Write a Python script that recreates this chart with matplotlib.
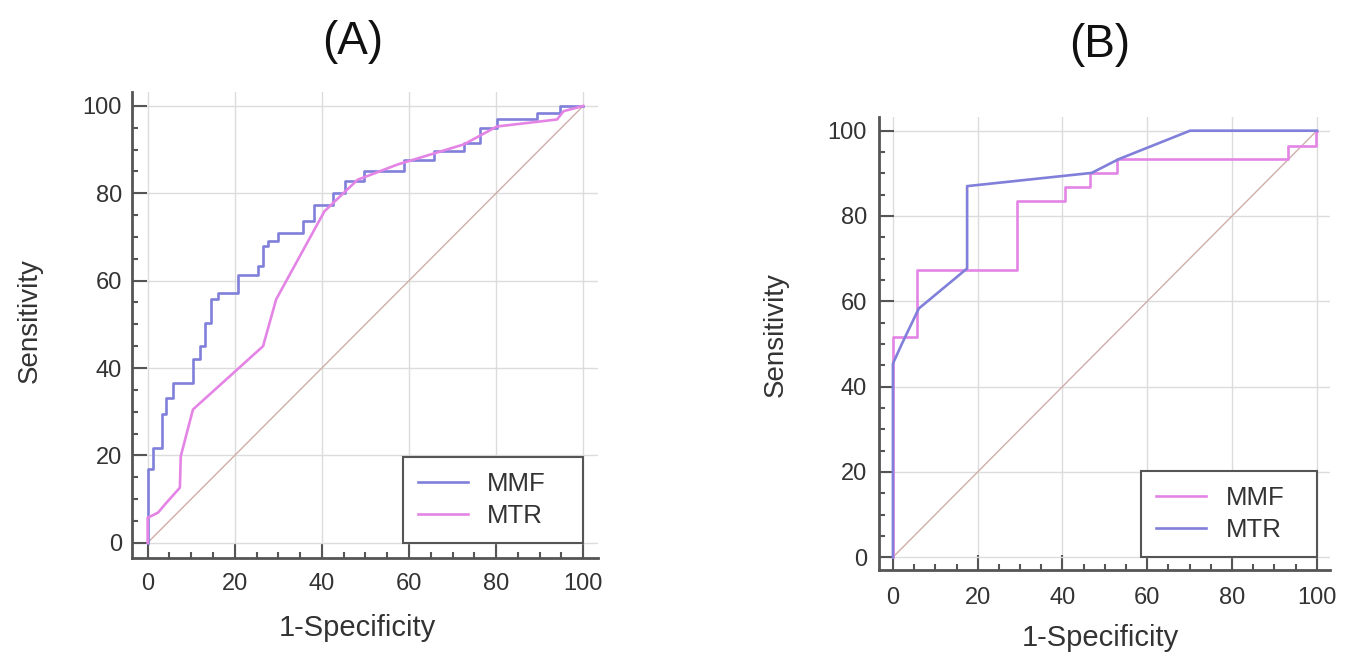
import matplotlib
matplotlib.use("Agg")
import matplotlib.pyplot as plt
from matplotlib.ticker import MultipleLocator

plt.rcParams['font.family'] = ['Liberation Sans', 'DejaVu Sans']

# ---------------- data ----------------
# Panel A
a_mmf_fpr = [0, 0, 1.3, 3.2, 4.3, 5.9, 10.4, 12.0, 13.1, 14.6, 16.2, 20.7, 25.3, 26.5,
             27.6, 29.9, 35.6, 38.3, 42.5, 45.2, 49.7, 58.9, 65.8, 72.6, 76.4, 80.2,
             89.4, 94.7, 100]
a_mmf_tpr = [0, 16.8, 21.7, 29.4, 33.2, 36.6, 42.0, 45.0, 50.3, 55.7, 57.2, 61.4, 63.3, 67.9,
             69.0, 70.9, 73.6, 77.4, 80.1, 82.8, 85.0, 87.7, 89.6, 91.5, 95.0, 96.9,
             98.4, 99.9, 100]
a_mtr_fpr = [0, 0, 2.4, 4.0, 7.4, 7.6, 10.4, 26.5, 29.5, 40.6, 48.2, 57.4, 72.6, 80.2,
             94.0, 95.5, 100]
a_mtr_tpr = [0, 5.7, 6.9, 8.8, 12.6, 19.8, 30.5, 45.0, 55.7, 75.9, 83.1, 86.6, 91.2, 95.3,
             96.9, 98.8, 100]

# Panel B
b_mmf_fpr = [0, 0, 5.7, 29.2, 40.6, 46.5, 52.8, 93.3, 99.7, 100]
b_mmf_tpr = [0, 51.6, 67.4, 83.6, 86.9, 90.0, 93.3, 96.3, 100, 100]
b_mtr_fpr = [0, 0, 2.1, 6.1, 17.5, 17.5, 46.9, 53.2, 70.1, 100]
b_mtr_tpr = [0, 45.4, 50.0, 58.3, 67.7, 87.0, 90.1, 93.3, 100, 100]

ref_line = [0, 100]
ticks = [0, 20, 40, 60, 80, 100]

# ---------------- style ----------------
BLUE = '#8080da'
PINK = '#e485e6'
DIAG = '#cfaeaa'
GRID = '#dcdcdc'
SPINE = '#555555'
TXT = '#333333'

fig = plt.figure(figsize=(13.56, 6.56), dpi=100)

axA = fig.add_axes([0.0971, 0.1494, 0.441 - 0.0971, 0.8598 - 0.1494])
axB = fig.add_axes([0.6485, 0.1311, 0.9808 - 0.6485, 0.8216 - 0.1311])


def style(ax, xlim, ylim, xpad, ypad, xlab_xy, ylab_xy):
    ax.set_xlim(*xlim)
    ax.set_ylim(*ylim)
    for s in ['top', 'right']:
        ax.spines[s].set_visible(False)
    for s in ['left', 'bottom']:
        ax.spines[s].set_color(SPINE)
        ax.spines[s].set_linewidth(2.0)
    ax.set_xticks(ticks)
    ax.set_yticks(ticks)
    ax.xaxis.set_minor_locator(MultipleLocator(5))
    ax.yaxis.set_minor_locator(MultipleLocator(5))
    ax.tick_params(which='major', direction='in', length=11, width=1.5, color=SPINE,
                   labelsize=17, labelcolor=TXT)
    ax.tick_params(axis='x', which='major', pad=xpad)
    ax.tick_params(axis='y', which='major', pad=ypad)
    ax.tick_params(which='minor', direction='in', length=4, width=1.5, color=SPINE)
    ax.grid(True, which='major', color=GRID, linewidth=1.0)
    ax.set_axisbelow(True)
    ax.set_xlabel('1-Specificity', fontsize=21, color=TXT)
    ax.set_ylabel('Sensitivity', fontsize=20, color=TXT)
    ax.xaxis.set_label_coords(*xlab_xy)
    ax.yaxis.set_label_coords(*ylab_xy)
    ax.xaxis.label.set_verticalalignment('center')
    ax.yaxis.label.set_verticalalignment('center')


style(axA, (-3.67, 103.4), (-3.5, 103.2), 11, 7, (0.483, -0.150), (-0.218, 0.51))
style(axB, (-3.2, 103.1), (-3.0, 103.2), 12, 9, (0.49, -0.150), (-0.231, 0.52))

# Panel A curves
axA.plot(ref_line, ref_line, color=DIAG, linewidth=1.0)
axA.step(a_mmf_fpr, a_mmf_tpr, where='post', color=BLUE, linewidth=1.9, label='MMF')
axA.plot(a_mtr_fpr, a_mtr_tpr, color=PINK, linewidth=1.9, label='MTR')

# Panel B curves
axB.plot(ref_line, ref_line, color=DIAG, linewidth=1.0)
axB.step(b_mmf_fpr, b_mmf_tpr, where='post', color=PINK, linewidth=1.9, label='MMF')
axB.plot(b_mtr_fpr, b_mtr_tpr, color=BLUE, linewidth=1.9, label='MTR')

for ax in (axA, axB):
    leg = ax.legend(loc='lower left', bbox_to_anchor=(58.6, 0, 41.4, 20),
                    bbox_transform=ax.transData, mode='expand',
                    borderaxespad=0, fancybox=False, framealpha=1, edgecolor=SPINE,
                    fontsize=18.5, handlelength=1.95, handletextpad=0.75, labelspacing=0.32,
                    borderpad=0.58)
    leg.get_frame().set_linewidth(1.5)
    for t in leg.get_texts():
        t.set_color(TXT)
    leg.set_zorder(5)

fig.text(0.26, 0.936, '(A)', fontsize=33, ha='center', va='center', color='#111111')
fig.text(0.811, 0.931, '(B)', fontsize=33, ha='center', va='center', color='#111111')

fig.savefig('out.png', dpi=100)
